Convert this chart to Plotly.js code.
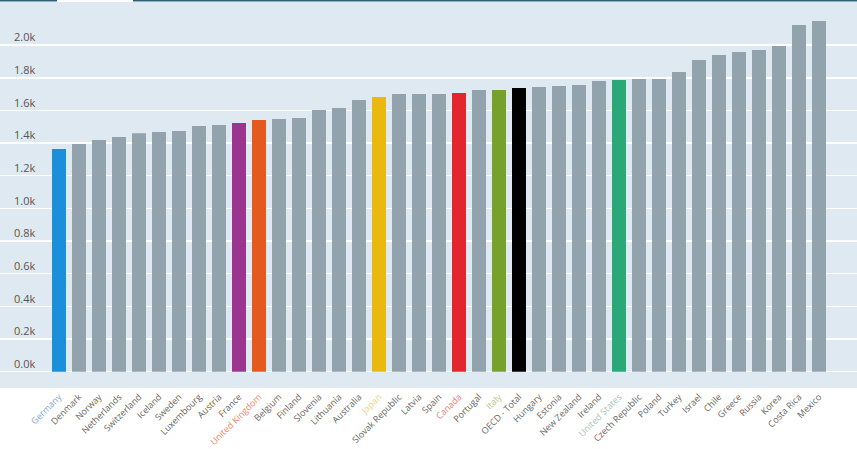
<!DOCTYPE html>
<html>
<head>
<meta charset="utf-8">
<script src="https://cdn.plot.ly/plotly-3.0.1.min.js"></script>
<style>
  html, body { margin: 0; padding: 0; background: #fff; }
  #chart { width: 857px; height: 449px; }
</style>
</head>
<body>
<div id="chart"></div>
<script>
// countries, sorted by value (hours)
var countries = ["Germany", "Denmark", "Norway", "Netherlands", "Switzerland", "Iceland",
  "Sweden", "Luxembourg", "Austria", "France", "United Kingdom", "Belgium", "Finland",
  "Slovenia", "Lithuania", "Australia", "Japan", "Slovak Republic", "Latvia", "Spain",
  "Canada", "Portugal", "Italy", "OECD - Total", "Hungary", "Estonia", "New Zealand",
  "Ireland", "United States", "Czech Republic", "Poland", "Turkey", "Israel", "Chile",
  "Greece", "Russia", "Korea", "Costa Rica", "Mexico"];

var hours = [1363, 1394, 1419, 1437, 1460, 1468, 1474, 1505, 1511, 1523, 1542, 1548, 1554,
  1603, 1615, 1664, 1682, 1700, 1700, 1700, 1706, 1725, 1725, 1737, 1743, 1749, 1755,
  1780, 1786, 1792, 1792, 1835, 1909, 1940, 1958, 1970, 1995, 2123, 2148];

var yTicks = [0, 200, 400, 600, 800, 1000, 1200, 1400, 1600, 1800, 2000];
var yTickText = ["0.0k", "0.2k", "0.4k", "0.6k", "0.8k", "1.0k", "1.2k", "1.4k", "1.6k", "1.8k", "2.0k"];

// highlighted bars and their (paler) label colours
var barHighlight = {
  "Germany": "#1b8fd9",
  "France": "#9b358f",
  "United Kingdom": "#e3591e",
  "Japan": "#e9b910",
  "Canada": "#e3262e",
  "Italy": "#76a22b",
  "OECD - Total": "#000000",
  "United States": "#2aa877"
};
var labelHighlight = {
  "Germany": "#7fa6d6",
  "United Kingdom": "#e58a78",
  "Japan": "#e3d39c",
  "Canada": "#e07b85",
  "Italy": "#c3c48c",
  "United States": "#a9c2b8"
};

var barColors = countries.map(c => barHighlight[c] || "#93a3ad");
var tickText = countries.map(c => labelHighlight[c]
  ? '<span style="color:' + labelHighlight[c] + '">' + c + '</span>'
  : c);

var trace = {
  x: countries,
  y: hours,
  type: "bar",
  width: 0.7,
  marker: {color: barColors},
  hoverinfo: "skip"
};

var layout = {
  width: 857,
  height: 449,
  margin: {l: 0, r: 0, t: 2, b: 61},
  paper_bgcolor: "#ffffff",
  plot_bgcolor: "#dfe9f1",
  showlegend: false,
  font: {family: "Open Sans, sans-serif", color: "#5a5a5a"},
  xaxis: {
    type: "category",
    range: [-2.95, 39.9],
    tickmode: "array",
    tickvals: countries,
    ticktext: tickText,
    tickangle: -45,
    ticklabelstandoff: 1,
    tickfont: {size: 9, color: "#666666"},
    showgrid: false,
    showline: false,
    ticks: "",
    fixedrange: true
  },
  yaxis: {
    range: [-100, 2264],
    tickmode: "array",
    tickvals: yTicks,
    ticktext: yTickText,
    ticklabelposition: "inside top",
    ticklabelstandoff: 11,
    tickfont: {size: 11, color: "#555555"},
    gridcolor: "#ffffff",
    gridwidth: 1.5,
    zeroline: false,
    showline: false,
    fixedrange: true
  },
  shapes: [
    {type: "line", xref: "paper", yref: "paper", x0: 0, x1: 57 / 857, y0: 1.004, y1: 1.004,
     line: {color: "#2d6178", width: 2}},
    {type: "line", xref: "paper", yref: "paper", x0: 133 / 857, x1: 1, y0: 1.004, y1: 1.004,
     line: {color: "#2d6178", width: 2}}
  ]
};

Plotly.newPlot("chart", [trace], layout, {displayModeBar: false, staticPlot: true});
</script>
</body>
</html>
